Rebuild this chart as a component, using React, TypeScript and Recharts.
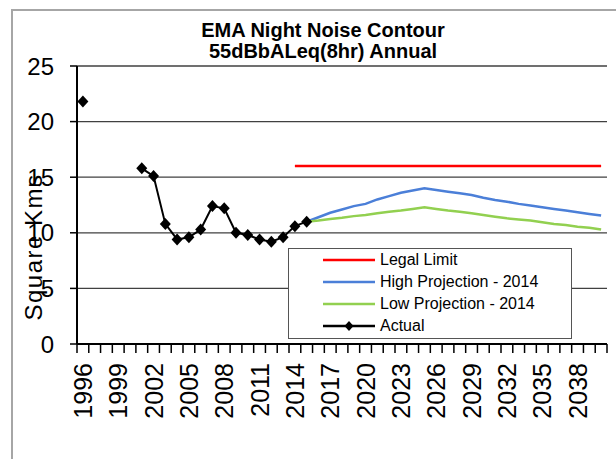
import React from "react";
import { ComposedChart, Line, XAxis, YAxis, CartesianGrid } from "recharts";

const FONT = "'Liberation Sans', Arial, sans-serif";

const YEARS = [
  1996, 1997, 1998, 1999, 2000, 2001, 2002, 2003, 2004, 2005, 2006, 2007, 2008, 2009, 2010,
  2011, 2012, 2013, 2014, 2015, 2016, 2017, 2018, 2019, 2020, 2021, 2022, 2023, 2024, 2025,
  2026, 2027, 2028, 2029, 2030, 2031, 2032, 2033, 2034, 2035, 2036, 2037, 2038, 2039, 2040,
];
const LABEL_YEARS = [1996, 1999, 2002, 2005, 2008, 2011, 2014, 2017, 2020, 2023, 2026, 2029, 2032, 2035, 2038];
const Y_TICKS = [0, 5, 10, 15, 20, 25];

// Actual, 1996..2015 (no readings 1997-2000)
const ACTUAL = [21.8, null, null, null, null, 15.8, 15.1, 10.8, 9.4, 9.6, 10.3, 12.4, 12.2, 10.0, 9.8, 9.4, 9.2, 9.6, 10.6, 11.0];
// projections, 2015..2040
const PROJ_START = 2015;
const HIGH_2014 = [11.0, 11.4, 11.8, 12.1, 12.4, 12.6, 13.0, 13.3, 13.6, 13.8, 14.0, 13.85, 13.7, 13.55, 13.4, 13.15, 12.95, 12.8, 12.6, 12.45, 12.3, 12.15, 12.0, 11.85, 11.7, 11.55];
const LOW_2014 = [11.0, 11.1, 11.25, 11.35, 11.5, 11.6, 11.75, 11.9, 12.0, 12.15, 12.3, 12.15, 12.0, 11.9, 11.75, 11.6, 11.45, 11.3, 11.2, 11.1, 10.95, 10.8, 10.7, 10.55, 10.45, 10.3];
const LEGAL_LIMIT = 16;
const LEGAL_START = 2014;

const SERIES = [
  { key: "legal", name: "Legal Limit", color: "#ff0000" },
  { key: "high", name: "High Projection - 2014", color: "#4b7fd8" },
  { key: "low", name: "Low Projection - 2014", color: "#92d050" },
  { key: "actual", name: "Actual", color: "#000000" },
];

const data = YEARS.map((year, i) => ({
  year,
  actual: i < ACTUAL.length ? ACTUAL[i] : null,
  high: year >= PROJ_START ? HIGH_2014[year - PROJ_START] : null,
  low: year >= PROJ_START ? LOW_2014[year - PROJ_START] : null,
  legal: year >= LEGAL_START ? LEGAL_LIMIT : null,
}));

const DOMAIN = [YEARS[0] - 0.5, YEARS[YEARS.length - 1] + 0.5];
const X_TICKS = [...YEARS.map((y) => y - 0.5), DOMAIN[1], ...LABEL_YEARS];

const Diamond = (props: any) => {
  const { cx, cy } = props;
  if (cx == null || cy == null) return null;
  return <polygon points={`${cx},${cy - 6} ${cx + 5.5},${cy} ${cx},${cy + 6} ${cx - 5.5},${cy}`} fill="#000" />;
};

const XTick = (props: any) => {
  const { x, y, payload } = props;
  const v = payload.value;
  if (!Number.isInteger(v)) {
    return <line x1={x} x2={x} y1={y} y2={y + 9} stroke="#000" strokeWidth={1.5} />;
  }
  const ty = y + 19;
  return (
    <text x={x} y={ty} dy="0.36em" transform={`rotate(-90 ${x} ${ty})`} textAnchor="end"
      fontSize={25} fontFamily={FONT} fill="#000">{v}</text>
  );
};

function LegendBox() {
  return (
    <div style={{
      position: "absolute", left: 288, top: 248, width: 284, height: 91, boxSizing: "border-box",
      border: "1.5px solid #555", background: "#fff", fontFamily: FONT, fontSize: 16, color: "#000",
    }}>
      {SERIES.map((s) => (
        <div key={s.key} style={{ display: "flex", alignItems: "center", height: 22 }}>
          <svg width={52} height={14} style={{ marginLeft: 34 }}>
            <line x1={0} x2={52} y1={7} y2={7} stroke={s.color} strokeWidth={2.5} />
            {s.key === "actual" && <polygon points="26,2 30.5,7 26,12 21.5,7" fill="#000" />}
          </svg>
          <span style={{ marginLeft: 5 }}>{s.name}</span>
        </div>
      ))}
    </div>
  );
}

export default function App() {
  return (
    <div style={{ position: "fixed", left: 0, top: 0, width: 616, height: 459, overflow: "hidden", background: "#fff" }}>
      <div style={{ position: "absolute", left: 11, top: 9, width: 640, height: 480, border: "2px solid #a6a6a6" }} />
      <div style={{ position: "absolute", left: 0, top: 0 }}>
        <ComposedChart width={616} height={459} data={data} margin={{ top: 66, right: 9, bottom: 0, left: 0 }}>
          <CartesianGrid vertical={false} stroke="#404040" strokeWidth={1.3} />
          <XAxis dataKey="year" type="number" domain={DOMAIN} allowDataOverflow ticks={X_TICKS} interval={0}
            height={115} tickSize={0} tickMargin={0} tickLine={false} tick={<XTick />}
            axisLine={{ stroke: "#000", strokeWidth: 2 }} />
          <XAxis xAxisId="top" orientation="top" dataKey="year" type="number" domain={DOMAIN} allowDataOverflow
            height={0} tick={false} tickLine={false} axisLine={{ stroke: "#000", strokeWidth: 2 }} />
          <YAxis domain={[0, 25]} ticks={Y_TICKS} interval={0} width={77} tickSize={7} tickMargin={16}
            tick={{ fontSize: 24, fontFamily: FONT, fill: "#000" }}
            tickLine={{ stroke: "#000", strokeWidth: 1.5 }} axisLine={{ stroke: "#000", strokeWidth: 2 }} />
          <YAxis yAxisId="right" orientation="right" domain={[0, 25]} width={0} tick={false} tickLine={false}
            axisLine={{ stroke: "#000", strokeWidth: 2 }} />
          <Line dataKey="legal" name="Legal Limit" stroke="#ff0000" strokeWidth={2.5} dot={false} isAnimationActive={false} />
          <Line dataKey="high" name="High Projection - 2014" stroke="#4b7fd8" strokeWidth={2.5} dot={false} isAnimationActive={false} />
          <Line dataKey="low" name="Low Projection - 2014" stroke="#92d050" strokeWidth={2.5} dot={false} isAnimationActive={false} />
          <Line dataKey="actual" name="Actual" stroke="#000" strokeWidth={2} dot={<Diamond />} activeDot={false} isAnimationActive={false} />
        </ComposedChart>
      </div>
      <svg width={616} height={459} style={{ position: "absolute", left: 0, top: 0, pointerEvents: "none" }}>
        <text x={323} y={37} textAnchor="middle" fontFamily={FONT} fontWeight="bold" fontSize={20} fill="#000">EMA Night Noise Contour</text>
        <text x={323} y={58} textAnchor="middle" fontFamily={FONT} fontWeight="bold" fontSize={20} fill="#000">55dBbALeq(8hr) Annual</text>
        <text transform="translate(42,247) rotate(-90)" textAnchor="middle" fontFamily={FONT} fontSize={24} letterSpacing={1.5} fill="#000">Square Kms</text>
      </svg>
      <LegendBox />
    </div>
  );
}
